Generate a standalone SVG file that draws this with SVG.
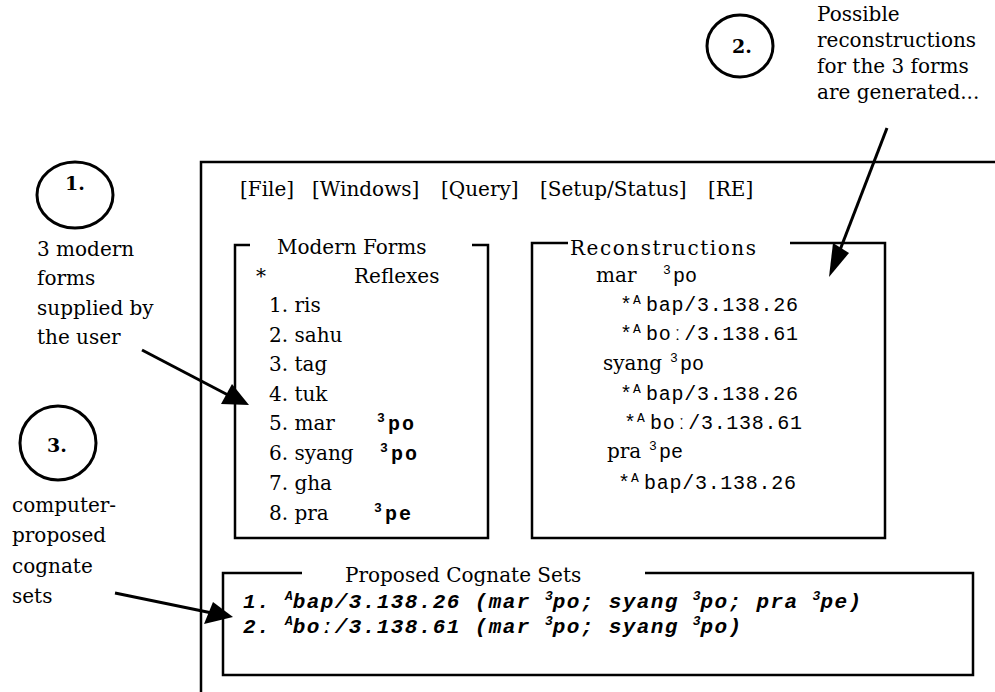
<svg xmlns="http://www.w3.org/2000/svg" width="995" height="692" viewBox="0 0 995 692">
<style>
.s{font-family:"DejaVu Serif","Liberation Serif",serif;font-size:20px;fill:#000}
.n{font-family:"DejaVu Serif","Liberation Serif",serif;font-size:19px;font-weight:bold;fill:#000}
.m{font-family:"Liberation Mono","DejaVu Sans Mono",monospace;font-size:20px;fill:#000}
.mb{font-family:"Liberation Mono","DejaVu Sans Mono",monospace;font-size:20px;font-weight:bold;letter-spacing:2px;fill:#000}
.bi{font-family:"Liberation Mono","DejaVu Sans Mono",monospace;font-size:21px;font-weight:bold;font-style:italic;letter-spacing:1.4px;fill:#000}
.sup{font-size:13px;letter-spacing:0}
.frame{fill:none;stroke:#000;stroke-width:2.5}
.ring{fill:none;stroke:#000;stroke-width:3}
.arr{stroke:#000;stroke-width:3;fill:none}
.head{fill:#000;stroke:none}
</style>

<g id="window">
<path class="frame" d="M201,692 V162 H995"/>
<text class="s" y="196"><tspan x="240">[File]</tspan><tspan x="312">[Windows]</tspan><tspan x="441">[Query]</tspan><tspan x="540">[Setup/Status]</tspan><tspan x="708">[RE]</tspan></text>
</g>

<g id="modern-forms">
<path class="frame" d="M250,245 H235 V538 H488 V245 H472"/>
<text class="s" x="277" y="254">Modern Forms</text>
<text class="s" x="256" y="283">*</text>
<text class="s" x="354" y="283">Reflexes</text>
<text class="s" x="269" y="312">1. ris</text>
<text class="s" x="269" y="342">2. sahu</text>
<text class="s" x="269" y="371">3. tag</text>
<text class="s" x="269" y="401">4. tuk</text>
<text class="s" x="269" y="430">5. mar</text>
<text class="s" x="269" y="460">6. syang</text>
<text class="s" x="269" y="490">7. gha</text>
<text class="s" x="269" y="520">8. pra</text>
<text class="mb" y="430"><tspan class="sup" x="377" dy="-8">3</tspan><tspan x="388" dy="8">po</tspan></text>
<text class="mb" y="460"><tspan class="sup" x="380" dy="-8">3</tspan><tspan x="391" dy="8">po</tspan></text>
<text class="mb" y="520"><tspan class="sup" x="374" dy="-8">3</tspan><tspan x="385" dy="8">pe</tspan></text>
</g>

<g id="reconstructions">
<path class="frame" d="M568,243 H532 V538 H885 V243 H790"/>
<text class="s" x="570" y="255" textLength="186">Reconstructions</text>
<text class="s" x="596" y="282">mar</text>
<text class="m" y="282"><tspan class="sup" x="663" dy="-8">3</tspan><tspan x="673" dy="8">po</tspan></text>
<text class="m" y="311"><tspan x="620">*</tspan><tspan class="sup" x="633" dy="-7">A</tspan><tspan x="646" dy="7" textLength="152">bap/3.138.26</tspan></text>
<text class="m" y="340"><tspan x="620">*</tspan><tspan class="sup" x="633" dy="-7">A</tspan><tspan x="646" dy="7" textLength="152">boː/3.138.61</tspan></text>
<text class="s" x="603" y="370">syang</text>
<text class="m" y="370"><tspan class="sup" x="670" dy="-8">3</tspan><tspan x="680" dy="8">po</tspan></text>
<text class="m" y="400"><tspan x="620">*</tspan><tspan class="sup" x="633" dy="-7">A</tspan><tspan x="646" dy="7" textLength="152">bap/3.138.26</tspan></text>
<text class="m" y="429"><tspan x="624">*</tspan><tspan class="sup" x="637" dy="-7">A</tspan><tspan x="650" dy="7" textLength="152">boː/3.138.61</tspan></text>
<text class="s" x="607" y="458">pra</text>
<text class="m" y="458"><tspan class="sup" x="649" dy="-8">3</tspan><tspan x="659" dy="8">pe</tspan></text>
<text class="m" y="489"><tspan x="618">*</tspan><tspan class="sup" x="631" dy="-7">A</tspan><tspan x="644" dy="7" textLength="152">bap/3.138.26</tspan></text>
</g>

<g id="cognate-sets">
<path class="frame" d="M302,573 H223 V675 H973 V573 H645"/>
<text class="s" x="345" y="582">Proposed Cognate Sets</text>
<text class="bi" x="243" y="608">1. <tspan class="sup" dy="-8">A</tspan><tspan dy="8">bap/3.138.26 (mar </tspan><tspan class="sup" dy="-8">3</tspan><tspan dy="8">po; syang </tspan><tspan class="sup" dy="-8">3</tspan><tspan dy="8">po; pra </tspan><tspan class="sup" dy="-8">3</tspan><tspan dy="8">pe)</tspan></text>
<text class="bi" x="243" y="633">2. <tspan class="sup" dy="-8">A</tspan><tspan dy="8">boː/3.138.61 (mar </tspan><tspan class="sup" dy="-8">3</tspan><tspan dy="8">po; syang </tspan><tspan class="sup" dy="-8">3</tspan><tspan dy="8">po)</tspan></text>
</g>

<g id="step1">
<ellipse class="ring" cx="75" cy="195" rx="38" ry="33"/>
<text class="n" x="75" y="190" text-anchor="middle">1.</text>
<text class="s" x="37" y="256">3 modern</text>
<text class="s" x="37" y="285">forms</text>
<text class="s" x="37" y="315">supplied by</text>
<text class="s" x="37" y="344">the user</text>
</g>

<g id="step2">
<ellipse class="ring" cx="740" cy="46" rx="33" ry="31"/>
<text class="n" x="742" y="53" text-anchor="middle">2.</text>
<text class="s" x="817" y="21">Possible</text>
<text class="s" x="817" y="47">reconstructions</text>
<text class="s" x="817" y="73">for the 3 forms</text>
<text class="s" x="817" y="99">are generated...</text>
</g>

<g id="step3">
<ellipse class="ring" cx="58" cy="443" rx="38" ry="37"/>
<text class="n" x="57" y="452" text-anchor="middle">3.</text>
<text class="s" x="12" y="512">computer-</text>
<text class="s" x="12" y="542">proposed</text>
<text class="s" x="12" y="573">cognate</text>
<text class="s" x="12" y="603">sets</text>
</g>

<g id="connectors">
<line class="arr" x1="142" y1="350" x2="228" y2="395"/>
<polygon class="head" points="232,384 249,405 221,404"/>
<line class="arr" x1="887" y1="128" x2="840" y2="250"/>
<polygon class="head" points="833,243 849,253 829,277"/>
<line class="arr" x1="115" y1="593" x2="212" y2="613"/>
<polygon class="head" points="213,602 233,617 204,624"/>
</g>
</svg>
